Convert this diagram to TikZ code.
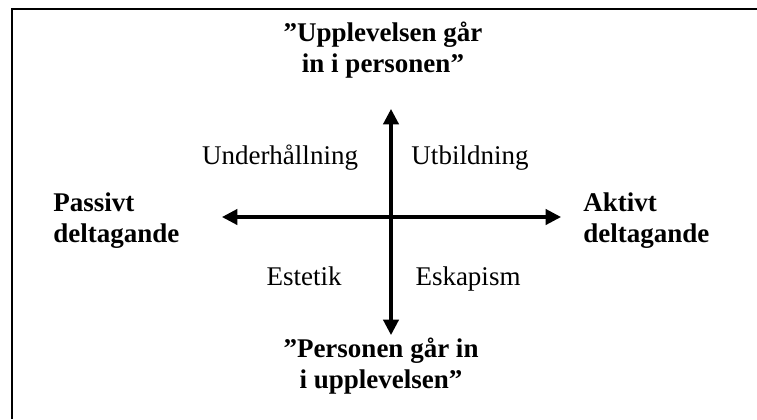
\documentclass[tikz,border=0pt]{standalone}
\usepackage{fontspec}
\setmainfont{Liberation Serif}
\usetikzlibrary{arrows.meta,positioning}
\newcommand\txtsize{\fontsize{12}{13.8}\selectfont}
\tikzset{
  axis/.style ={line width=1.35pt,
               {Triangle[length=6.8pt,width=6.8pt]}-{Triangle[length=6.8pt,width=6.8pt]}},
  pole/.style ={font=\txtsize\bfseries,align=center,inner sep=0pt},
  side/.style ={font=\txtsize\bfseries,align=left,inner sep=0pt,anchor=west},
  qdr/.style  ={font=\txtsize,inner sep=0pt,anchor=base},
}
\begin{document}
\begin{tikzpicture}[x=0.4444pt,y=-0.4444pt]
  \useasboundingbox (0,0) rectangle (757,419);
  \draw[line width=0.9pt] (12,419) -- (12,9) -- (757,9);
  % axes
  \coordinate (w) at (222,217);
  \coordinate (e) at (561,217);
  \coordinate (n) at (391,109);
  \coordinate (s) at (391,335);
  \draw[axis] (w) -- (e);
  \draw[axis] (n) -- (s);
  % poles
  \node[pole] (up)  at (383,50)  {”Upplevelsen går\\in i personen”};
  \node[pole] (dn)  at (381,366) {”Personen går in\\i upplevelsen”};
  \node[side] (pas) at (53,221)  {Passivt\\deltagande};
  \node[side] (akt) at (583,221) {Aktivt\\deltagande};
  % quadrants
  \node[qdr] (und) at (280,164) {Underhållning};
  \node[qdr] (utb) at (470,164) {Utbildning};
  \node[qdr] (est) at (304,285) {Estetik};
  \node[qdr] (esk) at (468,285) {Eskapism};
\end{tikzpicture}
\end{document}
